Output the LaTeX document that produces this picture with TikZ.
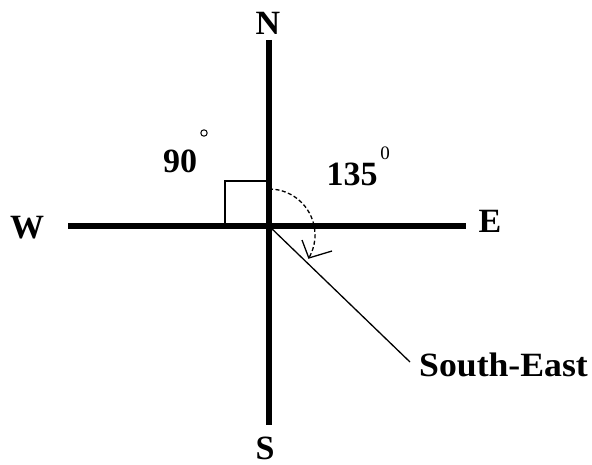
\documentclass[tikz,border=0pt]{standalone}
\usepackage{fontspec}
\setmainfont{Liberation Serif}
\begin{document}
\begin{tikzpicture}[x=1pt,y=-1pt,
  axis/.style={line width=5.5pt},
  thin/.style={line width=1.3pt},
  lbl/.style={font=\fontsize{34}{34}\selectfont\bfseries, inner sep=0pt},
  sup/.style={font=\fontsize{19}{19}\selectfont, inner sep=0pt}]
\useasboundingbox (0,0) rectangle (592,465);
% axes
\coordinate (ntop) at (269,40);
\coordinate (sbot) at (269,425);
\coordinate (wend) at (68,226);
\coordinate (eend) at (466,226);
\coordinate (o) at (269,226);
\draw[axis] (ntop) -- (sbot);
\draw[axis] (wend) -- (eend);
% labels
\node[lbl] (N) at (268,23) {N};
\node[lbl] (S) at (265,448) {S};
\node[lbl] (W) at (27,228) {W};
\node[lbl] (E) at (490,221) {E};
\node[lbl] (n90) at (180,161) {90};
\draw[line width=1pt] (204,133) circle (3.2);
\node[lbl] (n135) at (352,174) {135};
\node[sup] (z) at (385,153) {0};
\node[lbl, anchor=west, xscale=1.05] (se) at (419,365) {South-East};
% right angle square
\draw[thin] (o) -- (225,226) -- (225,181) -- (269,181);
% diagonal
\coordinate (diag) at (410,362);
\draw[thin] (o) -- (diag);
% dashed arc with arrow
\draw[thin, dash pattern=on 4pt off 2.5pt] (269,189) arc[start angle=-90, end angle=30, radius=46];
\coordinate (tip) at (308.8,258);
\draw[thin] (302,240) -- (tip) -- (332,251);
\end{tikzpicture}
\end{document}
